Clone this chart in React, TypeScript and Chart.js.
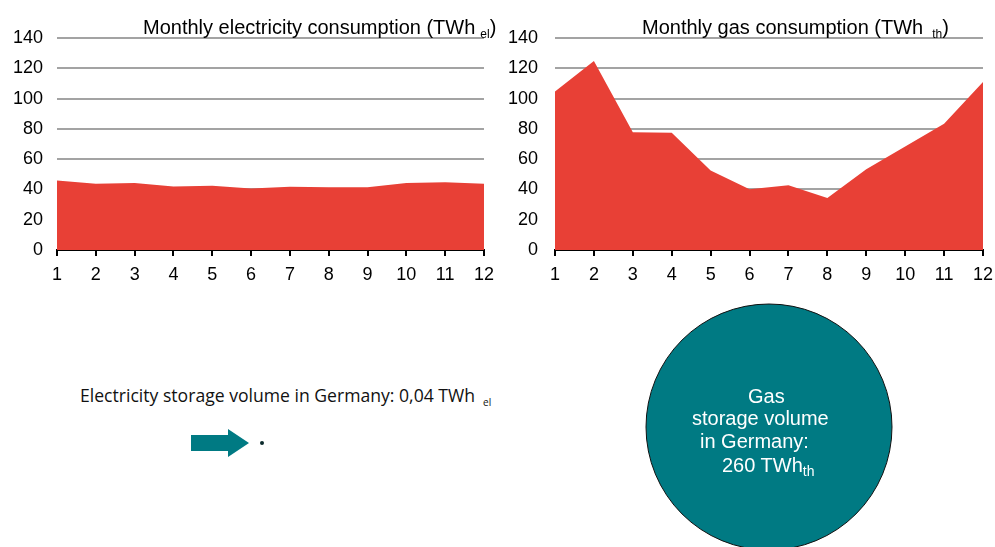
import React, { useEffect, useRef } from "react";
import { Chart, registerables } from "chart.js";

Chart.register(...registerables);

// ---- Data ----
const months = ["1", "2", "3", "4", "5", "6", "7", "8", "9", "10", "11", "12"];
const electricityTWh = [45.9, 43.7, 44.3, 41.9, 42.5, 40.6, 41.7, 41.4, 41.4, 44.3, 44.8, 43.7];
const gasTWh = [104.7, 124.8, 77.8, 77.4, 52.5, 40.1, 42.8, 34.4, 53.4, 68.3, 83.3, 110.9];
const yMin = 0;
const yMax = 140;
const yStep = 20;

const RED = "rgb(232,64,54)";
const TEAL = "#007A83";
const GRID = "#a3a3a3";
const FONT = "'Liberation Sans', Arial, Helvetica, sans-serif";

type AreaProps = {
  values: number[];
  left: number;
  width: number;
  height: number;
  yAxisWidth: number;
  labelPad: number;
  padRight: number;
};

function AreaChart({ values, left, width, height, yAxisWidth, labelPad, padRight }: AreaProps) {
  const ref = useRef<HTMLCanvasElement | null>(null);
  useEffect(() => {
    if (!ref.current) return;
    const chart = new Chart(ref.current, {
      type: "line",
      data: {
        labels: months,
        datasets: [
          {
            data: values,
            fill: "origin",
            backgroundColor: RED,
            borderWidth: 0,
            borderColor: RED,
            pointRadius: 0,
            tension: 0,
          },
        ],
      },
      options: {
        responsive: false,
        animation: false,
        devicePixelRatio: 1,
        layout: { padding: { top: 38, right: padRight, left: 0, bottom: 0 } },
        plugins: { legend: { display: false }, tooltip: { enabled: false }, title: { display: false } },
        scales: {
          x: {
            type: "category",
            offset: false,
            z: 1,
            grid: {
              display: true,
              drawOnChartArea: false,
              drawTicks: true,
              tickLength: 6,
              color: "#000",
              lineWidth: 2,
            },
            border: { display: true, color: "#000", width: 2 },
            ticks: {
              color: "#000",
              font: { family: FONT, size: 18 },
              padding: 8,
              maxRotation: 0,
              autoSkip: false,
            },
            afterFit: (scale: any) => {
              scale.height = 40;
            },
          },
          y: {
            min: yMin,
            max: yMax,
            grid: {
              drawTicks: false,
              color: (ctx: any) => (ctx.tick && ctx.tick.value === 0 ? "rgba(0,0,0,0)" : GRID),
              lineWidth: 2,
            },
            border: { display: false },
            ticks: {
              stepSize: yStep,
              color: "#000",
              font: { family: FONT, size: 18 },
              padding: labelPad,
            },
            afterFit: (scale: any) => {
              scale.width = yAxisWidth;
            },
          },
        },
      },
    });
    return () => chart.destroy();
  }, []);
  return (
    <canvas
      ref={ref}
      width={width}
      height={height}
      style={{ position: "absolute", left, top: 0, width, height }}
    />
  );
}

export default function App() {
  const titleStyle: React.CSSProperties = {
    position: "absolute",
    top: 16,
    fontFamily: FONT,
    fontSize: 20,
    lineHeight: "23px",
    color: "#000",
    whiteSpace: "nowrap",
  };
  const subStyle: React.CSSProperties = {
    fontSize: 12,
    verticalAlign: -4,
    lineHeight: "12px",
  };
  const circleLine: React.CSSProperties = {
    position: "absolute",
    fontFamily: FONT,
    fontSize: 20,
    lineHeight: "23px",
    color: "#fff",
    whiteSpace: "nowrap",
  };
  return (
    <div
      style={{
        position: "absolute",
        left: 0,
        top: 0,
        width: 995,
        height: 547,
        overflow: "hidden",
        background: "#fff",
      }}
    >
      <AreaChart values={electricityTWh} left={0} width={502} height={290} yAxisWidth={57} labelPad={14} padRight={0} />
      <AreaChart values={gasTWh} left={497} width={504} height={290} yAxisWidth={58} labelPad={17} padRight={0} />

      <div style={{ ...titleStyle, left: 143 }}>
        Monthly electricity consumption (TWh<span style={{ ...subStyle, marginLeft: 5 }}>el</span>)
      </div>
      <div style={{ ...titleStyle, left: 642 }}>
        Monthly gas consumption (TWh<span style={{ ...subStyle, marginLeft: 9 }}>th</span>)
      </div>

      <div
        style={{
          position: "absolute",
          left: 80,
          top: 384,
          fontFamily: "'Open Sans', Lato, sans-serif",
          fontSize: 17.6,
          lineHeight: "23px",
          color: "#111",
          whiteSpace: "nowrap",
        }}
      >
        Electricity storage volume in Germany: 0,04 TWh
        <span style={{ fontSize: 10, marginLeft: 8, verticalAlign: -4 }}>el</span>
      </div>

      <svg width={995} height={547} style={{ position: "absolute", left: 0, top: 0 }}>
        <polygon points="191,435 228,435 228,429 249,443 228,457 228,451 191,451" fill={TEAL} />
        <circle cx={262} cy={443} r={2} fill="#0b2a2c" />
        <circle cx={769} cy={427} r={123} fill={TEAL} stroke="#111" strokeWidth={1} />
      </svg>

      <div style={{ ...circleLine, left: 748, top: 385 }}>Gas</div>
      <div style={{ ...circleLine, left: 692, top: 407 }}>storage volume</div>
      <div style={{ ...circleLine, left: 700, top: 430 }}>in Germany:</div>
      <div style={{ ...circleLine, left: 722, top: 454 }}>
        260 TWh<span style={{ fontSize: 14, verticalAlign: -4 }}>th</span>
      </div>
    </div>
  );
}
